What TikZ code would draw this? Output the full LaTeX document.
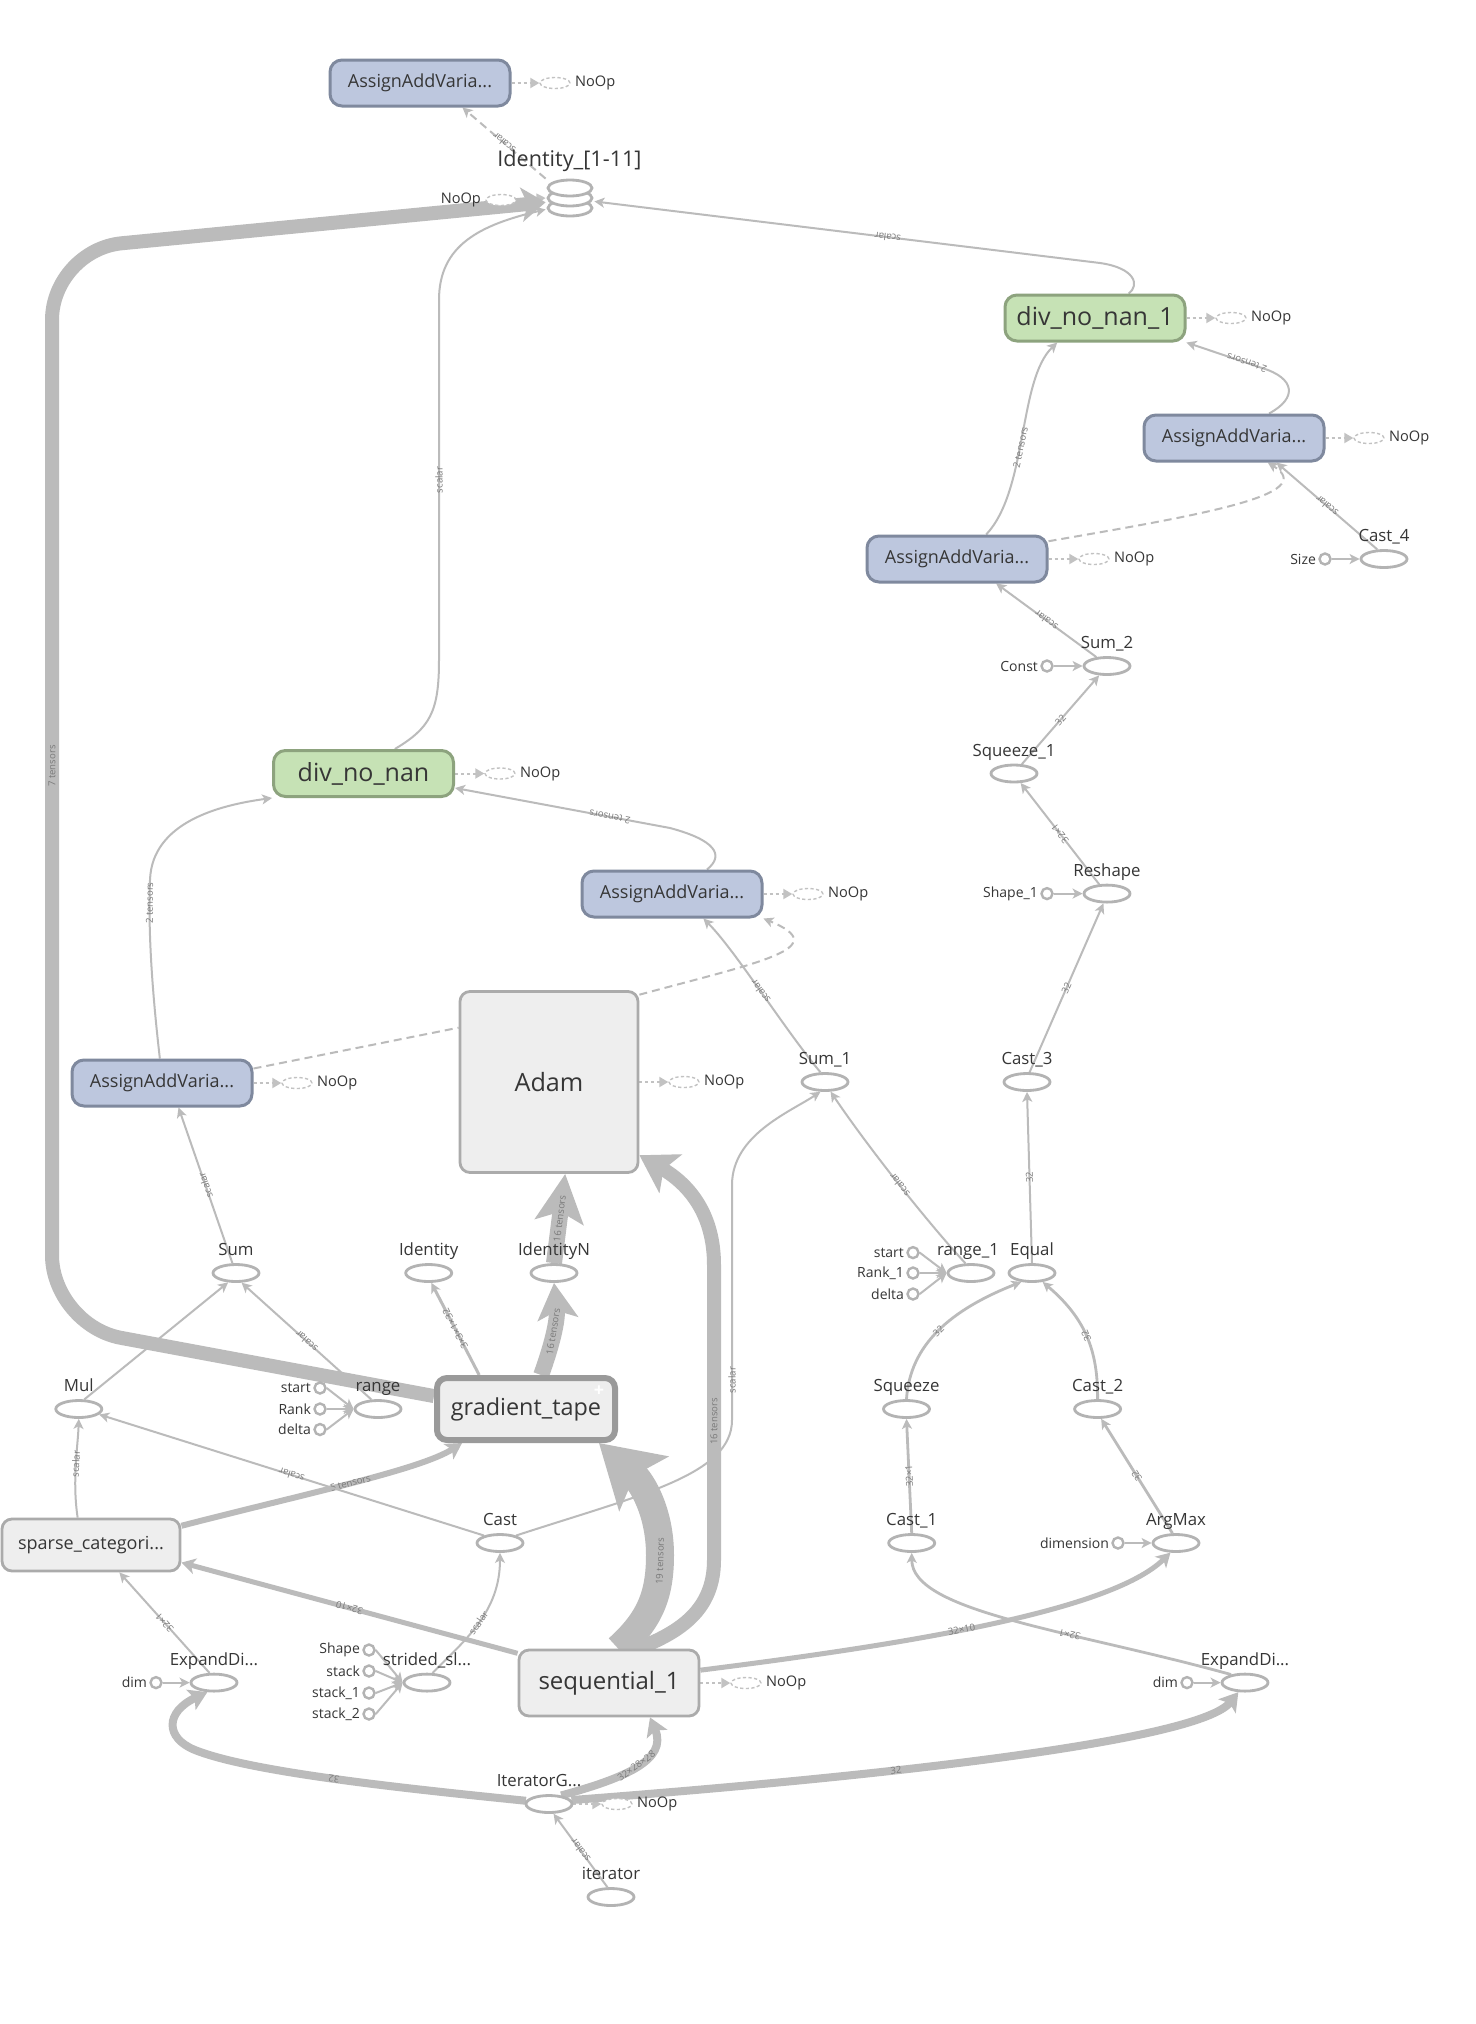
\documentclass[tikz,border=0pt]{standalone}
\usepackage{fontspec}
\setmainfont{Open Sans}
\usetikzlibrary{arrows.meta,shapes.geometric}
\definecolor{ec}{HTML}{BBBBBB}
\definecolor{opc}{HTML}{B3B3B3}
\definecolor{nopc}{HTML}{C2C2C2}
\definecolor{aafill}{HTML}{BDC7DE}
\definecolor{aadraw}{HTML}{7F899E}
\definecolor{dvfill}{HTML}{C6E2B5}
\definecolor{dvdraw}{HTML}{8DA37E}
\definecolor{gbfill}{HTML}{EEEEEE}
\definecolor{gbdraw}{HTML}{ABABAB}
\definecolor{txt}{HTML}{363636}
\definecolor{elc}{HTML}{7A7A7A}
\newcommand\fsz[1]{\fontsize{#1pt}{#1pt}\selectfont}
\pgfdeclarelayer{bg}
\pgfdeclarelayer{edges}
\pgfsetlayers{bg,edges,main}
\begin{document}
\begin{tikzpicture}[x=0.5pt,y=-0.5pt,
  aa/.style={draw=aadraw, fill=aafill, line width=1.5pt, rounded corners=6pt, minimum width=90pt, minimum height=23pt, inner sep=0pt, font=\fsz{9}, text=txt},
  dvb/.style={draw=dvdraw, fill=dvfill, line width=1.5pt, rounded corners=6pt, minimum width=90pt, minimum height=23pt, inner sep=0pt, font=\fsz{12.5}, text=txt},
  gb/.style={draw=gbdraw, fill=gbfill, line width=1.4pt, rounded corners=5pt, inner sep=0pt, text=txt},
  op/.style={ellipse, draw=opc, fill=white, line width=1.4pt, minimum width=23pt, minimum height=8.5pt, inner sep=0pt},
  lab/.style={font=\fsz{8.4}, text=txt, inner sep=0pt, anchor=base, yshift=3.6pt},
  cn/.style={circle, draw=opc, fill=white, line width=1.2pt, minimum size=5.5pt, inner sep=0pt},
  clab/.style={font=\fsz{7}, text=txt, inner sep=0pt},
  nop/.style={ellipse, draw=nopc, fill=white, line width=0.7pt, dash pattern=on 1.6pt off 1.2pt, minimum width=15pt, minimum height=5.5pt, inner sep=0pt},
  nlab/.style={font=\fsz{7.3}, text=txt, inner sep=0pt},
  ed/.style={draw=ec, line width=1pt, -{Stealth[length=5pt,width=5pt,inset=1.3pt]}},
  dotar/.style={draw=nopc, line width=1pt, dash pattern=on 1.5pt off 1.5pt, -{Triangle[length=4.5pt,width=5pt]}},
  ctl/.style={draw=ec, line width=1pt, dash pattern=on 4pt off 2.5pt},
  tk/.style={draw=ec, line width=#1},
  el/.style={font=\fsz{4.8}, text=elc, sloped, allow upside down, inner sep=0.4pt},
]
\begin{pgfonlayer}{bg}
\fill[white] (0,0) rectangle (1476,2024);
\end{pgfonlayer}
\useasboundingbox (0,0) rectangle (1476,2024);

% ---------- boxes ----------
\node[aa] (aaT) at (420,83) {AssignAddVaria...};
\node[dvb] (dv1) at (1095,318) {div\_no\_nan\_1};
\node[aa] (aaR) at (1234,438) {AssignAddVaria...};
\node[aa] (aaMR) at (957,559) {AssignAddVaria...};
\node[dvb] (dv) at (363.5,773.5) {div\_no\_nan};
\node[aa] (aaM) at (672,894) {AssignAddVaria...};
\node[aa] (aaL) at (162,1083) {AssignAddVaria...};
\node[gb, minimum width=89pt, minimum height=90.5pt, font=\fsz{12.6}] (adam) at (549,1082) {Adam};
\node[gb, line width=3pt, draw=gbdraw!90!black, minimum width=89pt, minimum height=31pt, font=\fsz{11.7}] (gt) at (526,1409) {gradient\_tape};
\node[font=\bfseries\fsz{9}, text=white, inner sep=0pt] (gtplus) at ([xshift=-9.5pt,yshift=-8pt]gt.north east) {+};
\node[gb, minimum width=90pt, minimum height=33pt, font=\fsz{12}] (seq) at (609,1683) {sequential\_1};
\node[gb, minimum width=89pt, minimum height=26pt, font=\fsz{9}] (sparse) at (91,1545) {sparse\_categori...};

% ---------- identity stack ----------
\node[minimum width=24pt, minimum height=19pt, inner sep=0pt] (stack) at (570,198) {};
\foreach \ys in {-5pt,0pt,5pt}
  \draw[opc, line width=1.4pt, fill=white] ([yshift=\ys]stack.center) ellipse [x radius=11pt, y radius=4pt];
\node[font=\fsz{10.8}, text=txt, inner sep=0pt] (stacklab) at (569.5,161) {Identity\_[1-11]};

% ---------- ops ----------
\node[op, label={[lab]above:Cast\_4}] (c4) at (1384,559) {};
\node[op, label={[lab]above:Sum\_2}] (sum2) at (1107,666) {};
\node[op, label={[lab]above:Squeeze\_1}] (sq1) at (1014,773.5) {};
\node[op, label={[lab]above:Reshape}] (resh) at (1107,893.6) {};
\node[op, label={[lab]above:Cast\_3}] (c3) at (1027,1082) {};
\node[op, label={[lab]above:Sum\_1}] (sum1) at (825,1082) {};
\node[op, label={[lab,xshift=-1.5pt]above:range\_1}] (r1) at (971,1273) {};
\node[op, label={[lab]above:Equal}] (eq) at (1032,1273) {};
\node[op, label={[lab]above:Squeeze}] (sq) at (906.5,1409) {};
\node[op, label={[lab]above:Cast\_2}] (c2) at (1097.6,1409) {};
\node[op, label={[lab]above:Cast\_1}] (c1) at (911.7,1543) {};
\node[op, label={[lab]above:ArgMax}] (am) at (1176,1543) {};
\node[op, label={[lab]above:ExpandDi...}] (edR) at (1245,1682.6) {};
\node[op, label={[lab,xshift=-5pt]above:IteratorG...}] (itg) at (549,1804) {};
\node[op, label={[lab]above:iterator}] (it) at (611,1897) {};
\node[op, label={[lab]above:ExpandDi...}] (edL) at (214,1682.6) {};
\node[op, label={[lab]above:strided\_sl...}] (ss) at (427,1682.6) {};
\node[op, label={[lab]above:Cast}] (cst) at (500,1543) {};
\node[op, label={[lab]above:Mul}] (mul) at (78.8,1409) {};
\node[op, label={[lab]above:range}] (rng) at (378,1409) {};
\node[op, label={[lab]above:Sum}] (sum) at (236,1273) {};
\node[op, label={[lab]above:Identity}] (idn) at (428.7,1273) {};
\node[op, label={[lab]above:IdentityN}] (idN) at (554,1273) {};

% ---------- constants ----------
\node[cn, label={[clab,xshift=-1pt]left:Size}] (size) at (1325,559) {};
\node[cn, label={[clab,xshift=-1pt]left:Const}] (const) at (1047,666) {};
\node[cn, label={[clab,xshift=-1pt]left:Shape\_1}] (shape1) at (1047,893.6) {};
\node[cn, label={[clab,xshift=-1pt]left:start}] (st1) at (913,1252.6) {};
\node[cn, label={[clab,xshift=-1pt]left:Rank\_1}] (rk1) at (913,1273) {};
\node[cn, label={[clab,xshift=-1pt]left:delta}] (dl1) at (913,1294) {};
\node[cn, label={[clab,xshift=-1pt]left:dimension}] (dimc) at (1118,1543) {};
\node[cn, label={[clab,xshift=-1pt]left:dim}] (dimR) at (1187,1682.6) {};
\node[cn, label={[clab,xshift=-1pt]left:dim}] (dimL) at (156,1682.6) {};
\node[cn, label={[clab,xshift=-1pt]left:Shape}] (shp) at (369,1650) {};
\node[cn, label={[clab,xshift=-1pt]left:stack}] (stk) at (369,1671) {};
\node[cn, label={[clab,xshift=-1pt]left:stack\_1}] (stk1) at (369,1693) {};
\node[cn, label={[clab,xshift=-1pt]left:stack\_2}] (stk2) at (369,1714) {};
\node[cn, label={[clab,xshift=-1pt]left:start}] (st) at (320,1388) {};
\node[cn, label={[clab,xshift=-1pt]left:Rank}] (rk) at (320,1409) {};
\node[cn, label={[clab,xshift=-1pt]left:delta}] (dl) at (320,1429.5) {};

% ---------- NoOps ----------
\node[nop, label={[nlab,xshift=2pt]right:NoOp}] (nT) at (555,83) {};
\node[nop, label={[nlab,xshift=-2pt]left:NoOp}] (nS) at (501,200) {};
\node[nop, label={[nlab,xshift=2pt]right:NoOp}] (n1) at (1231,318) {};
\node[nop, label={[nlab,xshift=2pt]right:NoOp}] (nR) at (1369,438) {};
\node[nop, label={[nlab,xshift=2pt]right:NoOp}] (nMR) at (1094,559) {};
\node[nop, label={[nlab,xshift=2pt]right:NoOp}] (nDv) at (500,773.5) {};
\node[nop, label={[nlab,xshift=2pt]right:NoOp}] (nM) at (808,894) {};
\node[nop, label={[nlab,xshift=2pt]right:NoOp}] (nL) at (297,1083) {};
\node[nop, label={[nlab,xshift=2pt]right:NoOp}] (nA) at (684,1082) {};
\node[nop, label={[nlab,xshift=2pt]right:NoOp}] (nSeq) at (746,1683) {};
\node[nop, label={[nlab,xshift=2pt]right:NoOp}] (nItg) at (617,1804) {};

% ---------- edges ----------
\begin{pgfonlayer}{edges}
% control deps to NoOps
\draw[dotar] (aaT.east) -- (nT.west);
\draw[dotar] (nS.east) -- (stack.west);
\draw[dotar] (dv1.east) -- (n1.west);
\draw[dotar] (aaR.east) -- (nR.west);
\draw[dotar] (aaMR.east) -- (nMR.west);
\draw[dotar] (dv.east) -- (nDv.west);
\draw[dotar] (aaM.east) -- (nM.west);
\draw[dotar] (aaL.east) -- (nL.west);
\draw[dotar] (adam.east) -- (nA.west);
\draw[dotar] (seq.east) -- (nSeq.west);
\draw[dotar] (itg.east) -- (nItg.west);

% top
\draw[ctl, -{Stealth[length=5pt,width=5pt,inset=1.3pt]}] (stack.north west) -- node[el]{scalar} (aaT.-30);
\draw[tk=7pt, rounded corners=35pt, -{Stealth[length=12pt,width=17pt,inset=3pt]}] (gt.172) -- (52,1325) -- node[el,pos=.52]{7 tensors} (52,250) -- (stack.190);
\draw[ed] (dv.38) .. controls (430,728) and (439,712) .. (439,660) -- node[el]{scalar} (439,300) .. controls (439,245) and (480,225) .. (stack.205);
\draw[ed] (dv1.36) .. controls (1140,285) and (1135,268) .. (1100,263) -- node[el,pos=.42]{scalar} (stack.-8);

% right column
\draw[ed] (aaMR.40) .. controls (1028,490) and (1018,380) .. node[el,pos=.45]{2 tensors} (dv1.-147);
\draw[ed] (aaR.35) .. controls (1298,398) and (1295,378) .. (1262,368) -- node[el,pos=.2]{2 tensors} (dv1.-15);
\draw[ctl, -{Stealth[length=5pt,width=5pt,inset=1.3pt]}] (aaMR.11) .. controls (1200,515) and (1320,495) .. (aaR.-36);
\draw[ed] (c4.125) -- node[el]{scalar} (aaR.-30);
\draw[ed] (size.east) -- (c4.west);
\draw[ed] (sum2.140) -- node[el]{scalar} (aaMR.-32);
\draw[ed] (const.east) -- (sum2.west);
\draw[ed] (sq1.50) -- node[el]{32} (sum2.-130);
\draw[ed] (resh.130) -- node[el]{32×1} (sq1.-55);
\draw[ed] (shape1.east) -- (resh.west);
\draw[ed] (c3.75) -- node[el]{32} (resh.-110);
\draw[ed] (eq.north) -- node[el]{32} (c3.south);

% middle
\draw[ed] (sum1.115) .. controls (785,1030) and (735,950) .. node[el]{scalar} (aaM.-38);
\draw[ctl, -{Stealth[length=5pt,width=5pt,inset=1.3pt]}] (adam.44) .. controls (760,962) and (835,948) .. (aaM.-15);
\draw[ctl] (aaL.9) -- (adam.149);
\draw[ed] (cst.25) .. controls (640,1495) and (732,1475) .. (732,1420) -- node[el,pos=.17]{scalar} (732,1185) .. controls (732,1135) and (790,1112) .. (sum1.-115);
\draw[ed] (r1.120) .. controls (930,1225) and (870,1150) .. node[el]{scalar} (sum1.-60);
\foreach \s in {st1,rk1,dl1} \draw[ed] (\s.east) -- (r1.west);
\draw[ed, line width=1.4pt] (sq.north) .. controls (910,1345) and (950,1310) .. node[el]{32} (eq.-140);
\draw[ed, line width=1.4pt] (c2.north) .. controls (1098,1350) and (1085,1318) .. node[el]{32} (eq.-40);
\draw[ed, line width=1.4pt] (c1.north) -- node[el]{32×1} (sq.south);
\draw[ed, line width=1.4pt] (am.110) -- node[el]{32} (c2.-70);
\draw[ed] (dimc.east) -- (am.west);
\draw[ed, line width=1.4pt] (edR.150) .. controls (1070,1630) and (912,1612) .. node[el,pos=.35]{32×1} (c1.south);
\draw[tk=2.5pt, -{Stealth[length=7pt,width=8pt,inset=2pt]}] (seq.8) .. controls (900,1645) and (1110,1612) .. node[el,pos=.45]{32×10} (am.-120);
\draw[ed] (dimR.east) -- (edR.west);

% bottom
\draw[tk=4pt, -{Stealth[length=9pt,width=11pt,inset=2pt]}] (itg.10) .. controls (900,1775) and (1200,1740) .. node[el,pos=.35]{32} (edR.-125);
\draw[tk=4pt, -{Stealth[length=9pt,width=11pt,inset=2pt]}] (itg.172) .. controls (400,1788) and (250,1772) .. node[el]{32} (195,1750) .. controls (165,1738) and (165,1712) .. (edL.-125);
\draw[tk=4pt, -{Stealth[length=9pt,width=11pt,inset=2pt]}] (itg.35) .. controls (625,1778) and (668,1760) .. node[el]{32×28×28} (seq.-40);
\draw[ed] (it.110) -- node[el]{scalar} (itg.-65);
\draw[tk=14pt, -{Stealth[length=30pt,width=36pt,inset=6pt]}] (seq.75) .. controls (650,1620) and (660,1595) .. node[el,pos=.95]{19 tensors} (660,1555) .. controls (660,1512) and (642,1482) .. (gt.-25);
\draw[tk=7pt, -{Stealth[length=18pt,width=22pt,inset=4pt]}] (seq.50) .. controls (680,1632) and (714,1610) .. (714,1560) -- node[el,pos=.47]{16 tensors} (714,1265) .. controls (714,1215) and (690,1185) .. (adam.-39);
\draw[tk=2.5pt, -{Stealth[length=7pt,width=8pt,inset=2pt]}] (seq.162) -- node[el]{32×10} (sparse.-11);
\draw[ed] (edL.115) -- node[el]{32×1} (sparse.-44);
\draw[ed] (dimL.east) -- (edL.west);
\draw[ed] (ss.60) .. controls (465,1640) and (500,1612) .. node[el]{scalar} (cst.south);
\foreach \s in {shp,stk,stk1,stk2} \draw[ed] (\s.east) -- (ss.west);

% left
\draw[tk=3pt, -{Stealth[length=8pt,width=9pt,inset=2pt]}] (sparse.12) .. controls (300,1495) and (420,1470) .. node[el]{5 tensors} (gt.-152);
\draw[ed] (sparse.116) .. controls (72,1480) and (78,1445) .. node[el]{scalar} (mul.south);
\draw[ed] (cst.155) -- node[el]{scalar} (mul.-15);
\draw[ed] (mul.60) -- (sum.-130);
\draw[ed] (rng.125) -- node[el]{scalar} (sum.-60);
\foreach \s in {st,rk,dl} \draw[ed] (\s.east) -- (rng.west);
\draw[ed, line width=1.5pt] (gt.144) -- node[el]{3×3×1×32} (idn.-75);
\draw[tk=8pt, -{Stealth[length=18pt,width=20pt,inset=4pt]}] (gt.66) .. controls (552,1345) and (558,1320) .. node[el]{16 tensors} (idN.south);
\draw[tk=8pt, -{Stealth[length=24pt,width=24pt,inset=5pt]}] (idN.north) -- node[el]{16 tensors} (adam.-80);
\draw[ed] (sum.110) -- node[el]{scalar} (aaL.-56);
\draw[ed] (aaL.95) .. controls (152,990) and (148,930) .. node[el,pos=.85]{2 tensors} (150,880) .. controls (152,822) and (220,805) .. (dv.-165);
\draw[ed] (aaM.35) .. controls (725,855) and (715,840) .. (670,828) -- node[el,pos=.28]{2 tensors} (dv.-9);
\end{pgfonlayer}
\end{tikzpicture}
\end{document}
